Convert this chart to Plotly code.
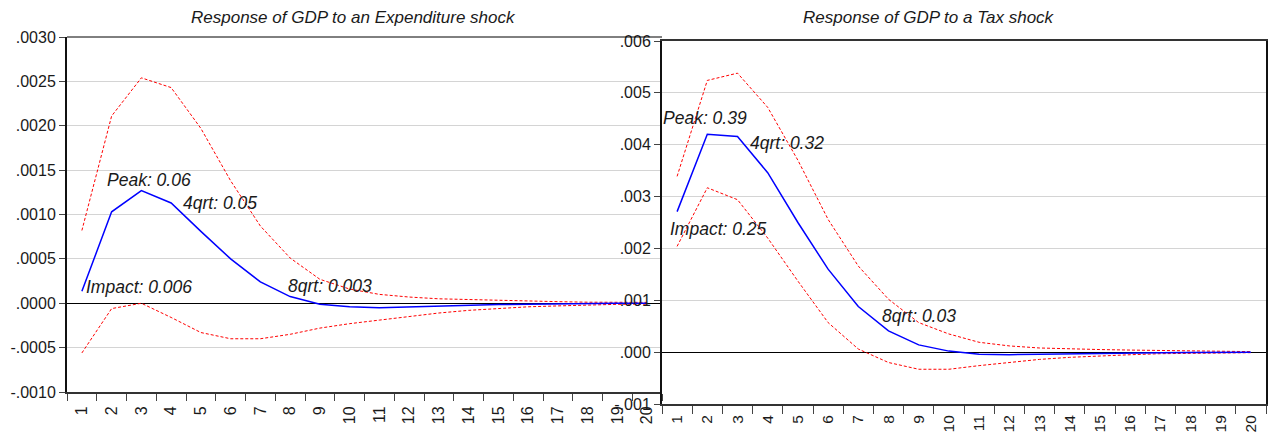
import plotly.graph_objects as go

periods = [str(i) for i in range(1, 21)]

# Response of GDP to an Expenditure shock
exp_resp = [0.000135, 0.00103, 0.00127, 0.00113, 0.00081, 0.0005, 0.00024, 0.000075, -0.00001, -0.00004,
            -0.00005, -0.00004, -0.00003, -0.00002, -0.000015, -0.00001, -0.000005, -0.000003, 0.0, 0.0]
exp_upper = [0.00082, 0.00211, 0.00254, 0.00243, 0.00197, 0.00138, 0.00087, 0.00051, 0.00027, 0.00016,
             0.0001, 0.00007, 0.00005, 0.00004, 0.00003, 0.00002, 0.000018, 0.000012, 0.00001, 0.00001]
exp_lower = [-0.00056, -0.00006, 0.0, -0.00016, -0.00033, -0.0004, -0.0004, -0.00035, -0.00028, -0.00023,
             -0.00019, -0.00015, -0.00011, -0.00008, -0.00006, -0.00004, -0.00003, -0.00002, -0.000012, -0.00001]

# Response of GDP to a Tax shock
tax_resp = [0.00271, 0.0042, 0.00416, 0.00346, 0.0025, 0.0016, 0.00088, 0.00041, 0.00014, 0.00002,
            -0.00004, -0.00005, -0.00004, -0.00003, -0.00002, -0.000015, -0.00001, -0.000005, 0.0, 0.0]
tax_upper = [0.00339, 0.00524, 0.00538, 0.00472, 0.0037, 0.00256, 0.00166, 0.00102, 0.00057, 0.00035,
             0.00019, 0.00012, 0.00008, 0.00006, 0.00005, 0.00004, 0.00003, 0.00002, 0.00002, 0.00001]
tax_lower = [0.00204, 0.00317, 0.00294, 0.0022, 0.00137, 0.00057, 0.00006, -0.0002, -0.00033, -0.00033,
             -0.00026, -0.0002, -0.00014, -0.0001, -0.00007, -0.00005, -0.00003, -0.00002, -0.00001, -0.00001]

left_ytick_vals = [-0.001, -0.0005, 0.0, 0.0005, 0.001, 0.0015, 0.002, 0.0025, 0.003]
left_ytick_text = ["-.0010", "-.0005", ".0000", ".0005", ".0010", ".0015", ".0020", ".0025", ".0030"]
right_ytick_vals = [-0.001, 0.0, 0.001, 0.002, 0.003, 0.004, 0.005, 0.006]
right_ytick_text = ["-.001", ".000", ".001", ".002", ".003", ".004", ".005", ".006"]

titles = ["Response of GDP to an Expenditure shock", "Response of GDP to a Tax shock"]

left_notes = [("Peak: 0.06", 0.811, 0.00139), ("4qrt: 0.05", 3.366, 0.00113),
              ("Impact: 0.006", 0.105, 0.00018), ("8qrt: 0.003", 6.895, 0.0002)]
right_notes = [("Peak: 0.39", -0.5, 0.00452), ("4qrt: 0.32", 2.38, 0.00404),
               ("Impact: 0.25", -0.268, 0.00238), ("8qrt: 0.03", 6.75, 0.00069)]

FONT = "Liberation Sans, Arial, sans-serif"
W, H = 1271, 435

fig = go.Figure()

def add_panel(resp, up, lo, xa, ya):
    fig.add_trace(go.Scatter(x=periods, y=up, mode="lines", xaxis=xa, yaxis=ya,
                             line=dict(color="#ff0000", width=1, dash="3px,2px"), showlegend=False))
    fig.add_trace(go.Scatter(x=periods, y=lo, mode="lines", xaxis=xa, yaxis=ya,
                             line=dict(color="#ff0000", width=1, dash="3px,2px"), showlegend=False))
    fig.add_trace(go.Scatter(x=periods, y=resp, mode="lines", xaxis=xa, yaxis=ya,
                             line=dict(color="#0000ff", width=1.5), showlegend=False))

add_panel(exp_resp, exp_upper, exp_lower, "x", "y")
add_panel(tax_resp, tax_upper, tax_lower, "x2", "y2")

xl = [67 / W, 662 / W]
xr = [662 / W, 1266 / W]
yl = [1 - 392 / H, 1 - 37 / H]
yr = [1 - 404 / H, 1 - 41 / H]

tickfont = dict(family=FONT, size=16, color="#1a1a1a")
xcommon = dict(type="category", categoryorder="array", categoryarray=periods,
               tickson="boundaries", ticks="outside", tickwidth=1, tickcolor="#444",
               tickangle=-90, showgrid=False, zeroline=False, automargin=False,
               showline=True, linecolor="#333", linewidth=2, range=[-0.5, 19.5], fixedrange=True)
ycommon = dict(ticks="outside", ticklen=6, tickwidth=1, tickcolor="#444", tickfont=tickfont,
               showgrid=True, gridcolor="#d4d4d4", gridwidth=1, automargin=False,
               zeroline=True, zerolinecolor="#000000", zerolinewidth=1,
               showline=True, linecolor="#111", linewidth=2)

fig.update_layout(
    width=W, height=H, autosize=False,
    margin=dict(l=0, r=0, t=0, b=0, pad=0, autoexpand=False),
    paper_bgcolor="white", plot_bgcolor="white",
    showlegend=False,
    xaxis=dict(domain=xl, anchor="y", ticklen=7, ticklabelstandoff=6, tickfont=tickfont, **xcommon),
    yaxis=dict(domain=yl, anchor="x", range=[-0.001, 0.003],
               tickvals=left_ytick_vals, ticktext=left_ytick_text, **ycommon),
    xaxis2=dict(domain=xr, anchor="y2", mirror=True, ticklen=8, ticklabelstandoff=3,
                tickfont=dict(family=FONT, size=15.5, color="#1a1a1a"), **xcommon),
    yaxis2=dict(domain=yr, anchor="x2", range=[-0.001, 0.006], mirror=True,
                tickvals=right_ytick_vals, ticktext=right_ytick_text, **ycommon),
)

# top border of left panel
fig.add_shape(type="line", xref="paper", yref="paper", x0=xl[0], x1=xl[1], y0=yl[1], y1=yl[1],
              line=dict(color="#000", width=1))

annots = []
for t, cx in zip(titles, [353.5 / W, 929 / W]):
    annots.append(dict(text="<i>" + t + "</i>", x=cx, y=1 - 18 / H, xref="paper", yref="paper",
                       xanchor="center", yanchor="middle", showarrow=False,
                       font=dict(family=FONT, size=17, color="#1a1a1a")))
for txt, x, y in left_notes:
    annots.append(dict(text="<i>" + txt + "</i>", x=x, y=y, xref="x", yref="y",
                       xanchor="left", yanchor="middle", showarrow=False, borderpad=0,
                       font=dict(family=FONT, size=17.5, color="#1a1a1a")))
for txt, x, y in right_notes:
    annots.append(dict(text="<i>" + txt + "</i>", x=x, y=y, xref="x2", yref="y2",
                       xanchor="left", yanchor="middle", showarrow=False, borderpad=0,
                       font=dict(family=FONT, size=17.5, color="#1a1a1a")))
fig.update_layout(annotations=annots)

post = """
document.documentElement.style.margin='0';
document.documentElement.style.overflow='hidden';
document.body.style.margin='0';
document.body.style.overflow='hidden';
var gd=document.getElementById('{plot_id}');
gd.style.position='fixed'; gd.style.left='0px'; gd.style.top='0px';
"""

fig.write_html("out.html", config={"displayModeBar": False, "responsive": False},
               post_script=post)
